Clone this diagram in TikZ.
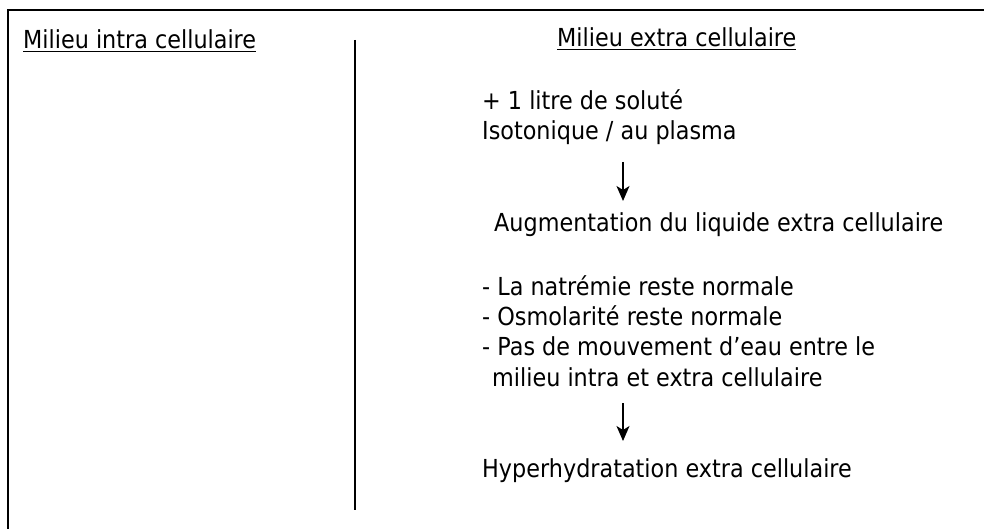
\documentclass[tikz,border=0pt]{standalone}
\usepackage{fontspec}
\setmainfont{DejaVu Sans}[FakeStretch=0.9]
\usetikzlibrary{arrows.meta}
\begin{document}
\begin{tikzpicture}[x=1pt,y=-1pt,
  every node/.style={font=\fontsize{24.8}{30}\selectfont,anchor=base west,inner sep=0pt},
  flow/.style={-{Stealth[length=15pt,width=13pt,inset=4pt]},line width=1.4pt}]
\useasboundingbox (0,0) rectangle (984,529);
% frame and divider
\draw[line width=2pt] (8,529) -- (8,10) -- (984,10);
\draw[line width=1.5pt] (355,40) -- (355,510);
% headings
\node (intra) at (23,49) {\underline{Milieu intra cellulaire}};
\node (extra) at (557,47) {\underline{Milieu extra cellulaire}};
% extra cellular side
\node (solute) at (482,110) {+ 1 litre de soluté};
\node (iso) at (482,140) {Isotonique / au plasma};
\node (augm) at (494,232) {Augmentation du liquide extra cellulaire};
\node (natr) at (482,295) {- La natrémie reste normale};
\node (osmo) at (482,325) {- Osmolarité reste normale};
\node (mouv) at (482,355) {- Pas de mouvement d’eau entre le};
\node (mil) at (492,386) {milieu intra et extra cellulaire};
\node (hyper) at (482,477) {Hyperhydratation extra cellulaire};
% arrows
\coordinate (a1s) at (623,162);
\coordinate (a1e) at (623,201);
\coordinate (a2s) at (623,403);
\coordinate (a2e) at (623,441);
\draw[flow] (a1s) -- (a1e);
\draw[flow] (a2s) -- (a2e);
\end{tikzpicture}
\end{document}
